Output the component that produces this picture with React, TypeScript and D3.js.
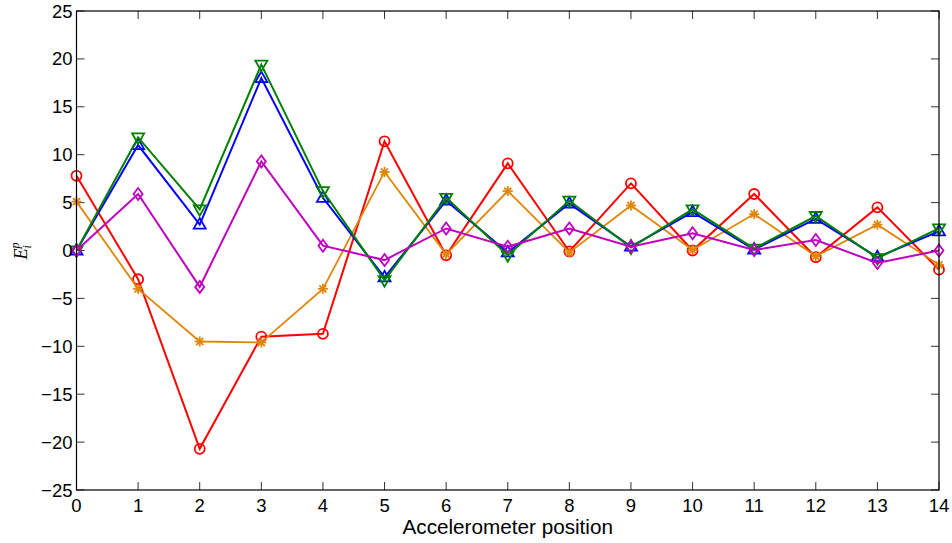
import React from "react";
import * as d3 from "d3";

const positions = [0, 1, 2, 3, 4, 5, 6, 7, 8, 9, 10, 11, 12, 13, 14];
const redCircle = [7.8, -3.0, -20.7, -9.0, -8.7, 11.4, -0.5, 9.1, -0.1, 7.0, 0.0, 5.9, -0.7, 4.5, -2.0];
const orangeStar = [5.1, -4.0, -9.5, -9.6, -4.0, 8.2, -0.4, 6.2, -0.2, 4.7, 0.05, 3.8, -0.6, 2.7, -1.5];
const blueUp = [0.0, 11.0, 2.7, 18.0, 5.5, -2.8, 5.2, -0.2, 4.9, 0.4, 4.0, 0.1, 3.3, -0.7, 2.0];
const greenDown = [0.0, 11.8, 4.3, 19.4, 6.2, -3.1, 5.5, -0.5, 5.2, 0.3, 4.3, 0.2, 3.6, -0.8, 2.3];
const magentaDiamond = [0.0, 5.9, -3.8, 9.3, 0.5, -1.0, 2.3, 0.4, 2.3, 0.4, 1.8, 0.05, 1.1, -1.3, 0.0];
const yTicks = [-25, -20, -15, -10, -5, 0, 5, 10, 15, 20, 25];

const W = 952, H = 543;
const L = 76.5, R = 939, T = 11, B = 490;

type Series = { values: number[]; color: string; marker: string; width: number };
const series: Series[] = [
  { values: redCircle, color: "#ff0000", marker: "circle", width: 2 },
  { values: orangeStar, color: "#e0870a", marker: "star", width: 1.8 },
  { values: blueUp, color: "#0000ff", marker: "up", width: 2 },
  { values: greenDown, color: "#008000", marker: "down", width: 2 },
  { values: magentaDiamond, color: "#bf00bf", marker: "diamond", width: 2 },
];

function Marker({ kind, x, y, color }: { kind: string; x: number; y: number; color: string }) {
  const sw = 1.8;
  if (kind === "circle") return <circle cx={x} cy={y} r={5} fill="none" stroke={color} strokeWidth={sw} />;
  if (kind === "up") {
    const p = `${x},${y - 6.5} ${x - 6},${y + 4} ${x + 6},${y + 4}`;
    return <polygon points={p} fill="none" stroke={color} strokeWidth={sw} />;
  }
  if (kind === "down") {
    const p = `${x},${y + 6.5} ${x - 6},${y - 4} ${x + 6},${y - 4}`;
    return <polygon points={p} fill="none" stroke={color} strokeWidth={sw} />;
  }
  if (kind === "diamond") {
    const p = `${x},${y - 6} ${x + 4.5},${y} ${x},${y + 6} ${x - 4.5},${y}`;
    return <polygon points={p} fill="none" stroke={color} strokeWidth={sw} />;
  }
  const r = 5;
  const d = r * 0.7071;
  return (
    <g stroke={color} strokeWidth={1.8}>
      <line x1={x - r} y1={y} x2={x + r} y2={y} />
      <line x1={x} y1={y - r} x2={x} y2={y + r} />
      <line x1={x - d} y1={y - d} x2={x + d} y2={y + d} />
      <line x1={x - d} y1={y + d} x2={x + d} y2={y - d} />
    </g>
  );
}

export default function App() {
  const x = d3.scaleLinear().domain([0, 14]).range([L, R]);
  const y = d3.scaleLinear().domain([-25, 25]).range([B, T]);
  const fmt = d3.format("d");
  const line = d3
    .line<number>()
    .x((_, i) => x(positions[i]))
    .y((v) => y(v));
  const tl = 8;
  const font = "'Liberation Sans', Arial, Helvetica, sans-serif";
  return (
    <svg width={W} height={H} style={{ position: "absolute", left: 0, top: 0, background: "#fff" }}>
      <rect x={0} y={0} width={W} height={H} fill="#fff" />
      <g stroke="#333" strokeWidth={1}>
        {positions.map((p) => (
          <g key={"xt" + p}>
            <line x1={x(p)} x2={x(p)} y1={B} y2={B - tl} />
            <line x1={x(p)} x2={x(p)} y1={T} y2={T + tl} />
          </g>
        ))}
        {yTicks.map((t) => (
          <g key={"yt" + t}>
            <line x1={L} x2={L + tl} y1={y(t)} y2={y(t)} />
            <line x1={R} x2={R - tl} y1={y(t)} y2={y(t)} />
          </g>
        ))}
      </g>
      {series.map((s, si) => (
        <g key={"s" + si}>
          <path d={line(s.values) || ""} fill="none" stroke={s.color} strokeWidth={s.width} strokeLinejoin="miter" />
          {s.values.map((v, i) => (
            <Marker key={i} kind={s.marker} x={x(positions[i])} y={y(v)} color={s.color} />
          ))}
        </g>
      ))}
      <rect x={L} y={T} width={R - L} height={B - T} fill="none" stroke="#000" strokeWidth={1.2} />
      <g fontFamily={font} fontSize={18.5} fill="#000">
        {positions.map((p) => (
          <text key={"xl" + p} x={x(p)} y={512} textAnchor="middle">
            {fmt(p)}
          </text>
        ))}
        {yTicks.map((t) => (
          <text key={"yl" + t} x={72.5} y={y(t) + 6.5} textAnchor="end">
            {fmt(t)}
          </text>
        ))}
      </g>
      <text x={(L + R) / 2} y={534} textAnchor="middle" fontFamily={font} fontSize={20.7} fill="#000">
        Accelerometer position
      </text>
      <text
        transform={`translate(27,251) rotate(-90)`}
        textAnchor="middle"
        fontFamily="'Liberation Serif', 'DejaVu Serif', serif"
        fontStyle="italic"
        fontSize={18}
        fill="#000"
      >
        E
        <tspan fontSize={12} dy={4}>i</tspan>
        <tspan fontSize={12} dx={-3.5} dy={-12}>p</tspan>
      </text>
    </svg>
  );
}
